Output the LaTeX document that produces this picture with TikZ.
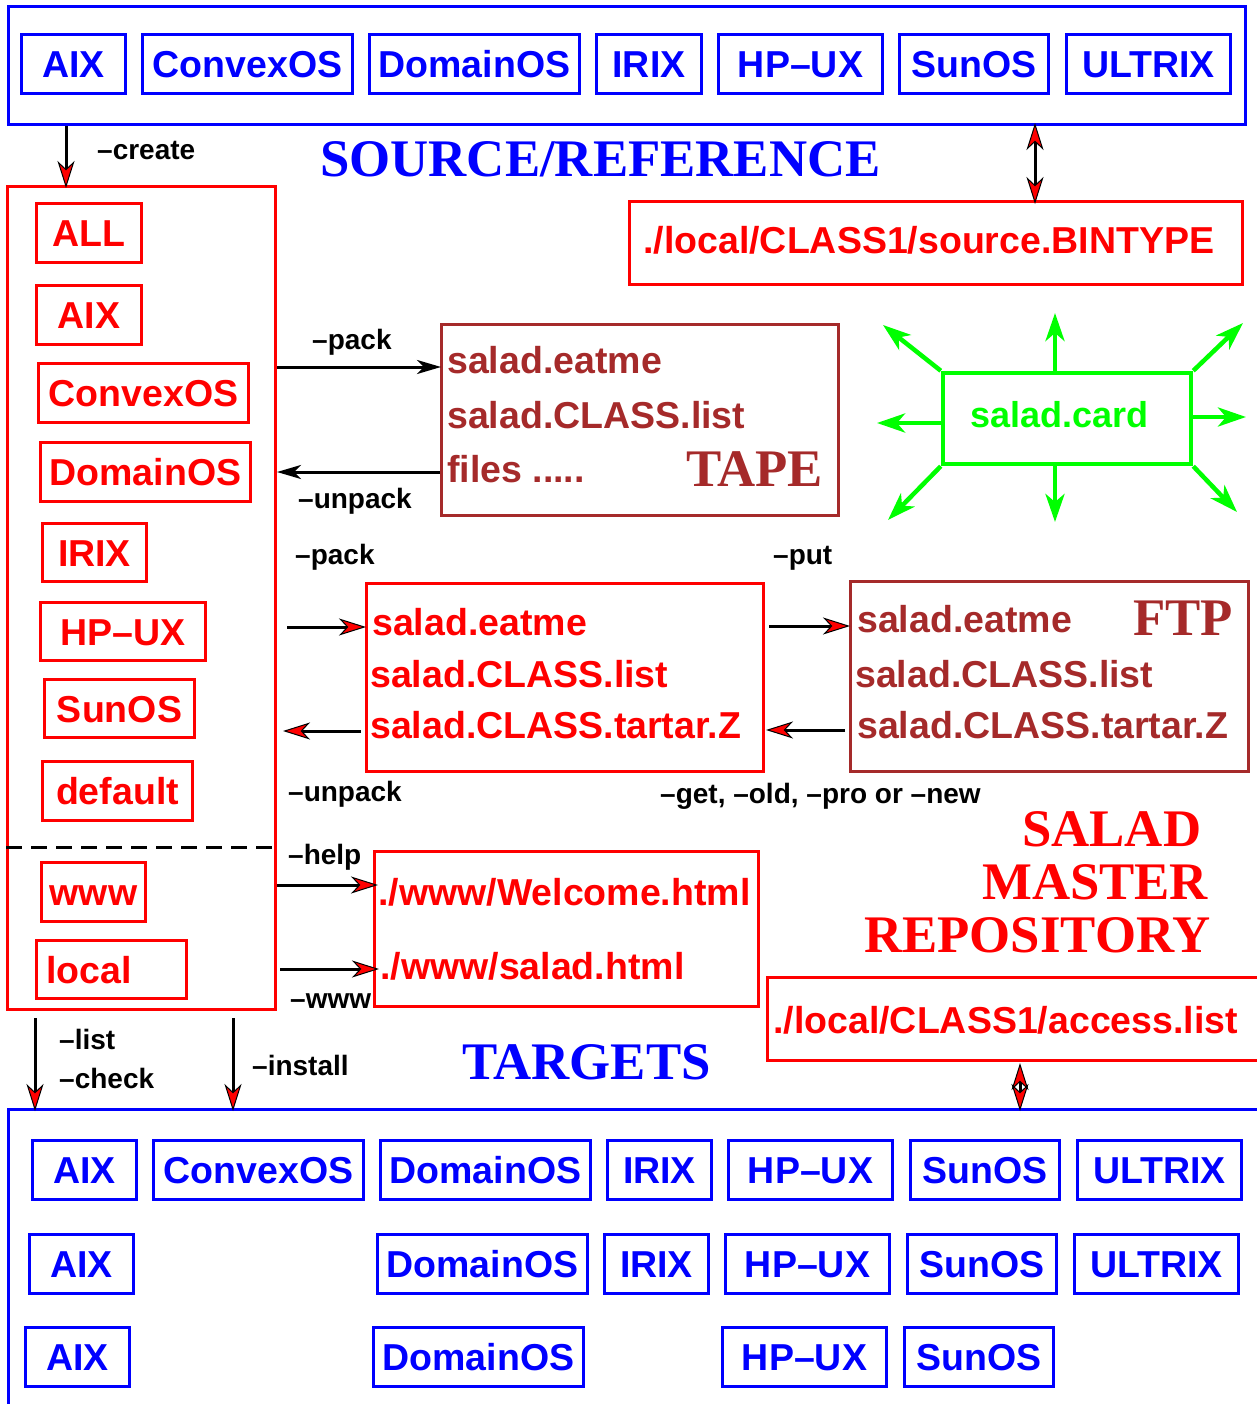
\documentclass[tikz,border=0pt]{standalone}
\usepackage{fontspec}
\setmainfont{Liberation Sans}
\newfontfamily\serifb{Liberation Serif}
\usetikzlibrary{arrows.meta}
\definecolor{xblue}{RGB}{0,0,255}
\definecolor{xred}{RGB}{255,0,0}
\definecolor{xbrown}{RGB}{165,42,42}
\definecolor{xgreen}{RGB}{0,255,0}
\begin{document}
\begin{tikzpicture}[x=1pt,y=-1pt,
  bigfont/.style={font=\bfseries\fontsize{37.5}{40}\selectfont},
  bbox/.style={draw=xblue, line width=3pt, text=xblue, bigfont, minimum height=59pt, inner sep=0pt, text height=27pt, text depth=0pt},
  rbox/.style={bbox, draw=xred, text=xred},
  frame/.style={draw, line width=3pt, inner sep=0pt},
  ftext/.style={anchor=base west, inner sep=0pt, bigfont},
  lbl/.style={anchor=base west, inner sep=0pt, font=\bfseries\fontsize{28}{30}\selectfont},
  ttl/.style={anchor=base west, inner sep=0pt, font=\serifb\bfseries\fontsize{52.8}{56}\selectfont},
  rtip/.tip={Stealth[length=27pt,width=17pt,inset=8pt,line width=1pt,fill=xred]},
  arr/.style={line width=3pt, -rtip},
  arrk/.style={line width=3pt, -{Stealth[length=24pt,width=14pt,inset=7pt]}},
  darr/.style={line width=3pt, rtip-rtip},
  garr/.style={draw=xgreen, line width=4.5pt, -{Stealth[length=28pt,width=19pt,inset=8pt]}}
]
\useasboundingbox (0,0) rectangle (1256,1404);

% ---------- frames ----------
\node[frame, draw=xblue, minimum width=1237pt, minimum height=118pt] (srcframe) at (627,65.5) {};
\node[frame, draw=xred, minimum width=268pt, minimum height=823pt] (lframe) at (141.5,598) {};
\node[frame, draw=xblue, minimum width=1260pt, minimum height=309pt] (tgtframe) at (638.5,1264) {};
\node[frame, draw=xred, minimum width=613pt, minimum height=83pt] (binf) at (936,243) {};
\node[frame, draw=xbrown, minimum width=397pt, minimum height=191pt] (tapef) at (640,420) {};
\node[frame, draw=xgreen, line width=4.5pt, minimum width=248pt, minimum height=91pt] (cardf) at (1067,418.5) {};
\node[frame, draw=xred, minimum width=397pt, minimum height=188pt] (midf) at (565,677.5) {};
\node[frame, draw=xbrown, minimum width=398pt, minimum height=190pt] (ftpf) at (1049.5,676.5) {};
\node[frame, draw=xred, minimum width=384pt, minimum height=155pt] (wwwf) at (566.5,929) {};
\node[frame, draw=xred, minimum width=500pt, minimum height=83pt] (accf) at (1017,1019) {};

% ---------- top row ----------
\node[bbox, minimum width=104pt] (t1) at (73.5,64) {AIX};
\node[bbox, minimum width=210pt] (t2) at (247.5,64) {ConvexOS};
\node[bbox, minimum width=210pt] (t3) at (474.5,64) {DomainOS};
\node[bbox, minimum width=105pt] (t4) at (649,64) {IRIX};
\node[bbox, minimum width=164pt] (t5) at (800.5,64) {HP--UX};
\node[bbox, minimum width=149pt] (t6) at (974,64) {SunOS};
\node[bbox, minimum width=164pt] (t7) at (1148.5,64) {ULTRIX};

% ---------- left column ----------
\node[rbox, minimum width=105pt] (l1) at (89,233) {ALL};
\node[rbox, minimum width=105pt] (l2) at (89,315) {AIX};
\node[rbox, minimum width=210pt] (l3) at (143.5,393) {ConvexOS};
\node[rbox, minimum width=210pt] (l4) at (145.5,472) {DomainOS};
\node[rbox, minimum width=104pt, minimum height=58pt] (l5) at (94.5,552.5) {IRIX};
\node[rbox, minimum width=165pt, minimum height=58pt] (l6) at (123,631.5) {HP--UX};
\node[rbox, minimum width=150pt, minimum height=58pt] (l7) at (119.5,708.5) {SunOS};
\node[rbox, minimum width=150pt] (l8) at (117.5,791) {default};
\node[rbox, minimum width=104pt] (l9) at (93.5,892) {www};
\node[rbox, minimum width=150pt, minimum height=58pt, text width=130pt, align=left] (l10) at (111.5,969.5) {local};

\coordinate (dashy) at (0,847);
\draw[line width=3pt, dash pattern=on 16pt off 9pt] (lframe.west |- dashy) -- ++(266,0);

% ---------- bottom rows ----------
\node[bbox, minimum width=104pt] (a1) at (84.5,1170) {AIX};
\node[bbox, minimum width=210pt] (a2) at (258.5,1170) {ConvexOS};
\node[bbox, minimum width=210pt] (a3) at (485.5,1170) {DomainOS};
\node[bbox, minimum width=104pt] (a4) at (659.5,1170) {IRIX};
\node[bbox, minimum width=164pt] (a5) at (810.5,1170) {HP--UX};
\node[bbox, minimum width=149pt] (a6) at (985,1170) {SunOS};
\node[bbox, minimum width=164pt] (a7) at (1159.5,1170) {ULTRIX};

\node[bbox, minimum width=104pt] (b1) at (81.5,1264) {AIX};
\node[bbox, minimum width=210pt] (b3) at (482.5,1264) {DomainOS};
\node[bbox, minimum width=104pt] (b4) at (656.5,1264) {IRIX};
\node[bbox, minimum width=164pt] (b5) at (807.5,1264) {HP--UX};
\node[bbox, minimum width=149pt] (b6) at (982,1264) {SunOS};
\node[bbox, minimum width=164pt] (b7) at (1156.5,1264) {ULTRIX};

\node[bbox, minimum width=104pt] (c1) at (77.5,1357) {AIX};
\node[bbox, minimum width=210pt] (c3) at (478.5,1357) {DomainOS};
\node[bbox, minimum width=164pt] (c5) at (804.5,1357) {HP--UX};
\node[bbox, minimum width=149pt] (c6) at (979,1357) {SunOS};

% ---------- texts in frames ----------
\node[ftext, text=xred] (bint) at (643,254) {./local/CLASS1/source.BINTYPE};
\node[ftext, text=xbrown] (tp1) at (447,373) {salad.eatme};
\node[ftext, text=xbrown] (tp2) at (447,428) {salad.CLASS.list};
\node[ftext, text=xbrown] (tp3) at (447,482) {files .....};
\node[ttl, text=xbrown] (tapet) at (686,486) {TAPE};
\node[ftext, text=xgreen, font=\bfseries\fontsize{36}{40}\selectfont] (cardt) at (970,427) {salad.card};
\node[ftext, text=xred] (m1) at (372,635) {salad.eatme};
\node[ftext, text=xred] (m2) at (370,687) {salad.CLASS.list};
\node[ftext, text=xred] (m3) at (370,738) {salad.CLASS.tartar.Z};
\node[ftext, text=xbrown] (f1) at (857,632) {salad.eatme};
\node[ftext, text=xbrown] (f2) at (855,687) {salad.CLASS.list};
\node[ftext, text=xbrown] (f3) at (857,738) {salad.CLASS.tartar.Z};
\node[ttl, text=xbrown] (ftpt) at (1133,635) {FTP};
\node[ftext, text=xred] (w1) at (378,905) {./www/Welcome.html};
\node[ftext, text=xred] (w2) at (380,979) {./www/salad.html};
\node[ftext, text=xred] (acct) at (773,1033) {./local/CLASS1/access.list};

% ---------- titles ----------
\node[ttl, text=xblue] (srct) at (320,177) {SOURCE/REFERENCE};
\node[ttl, text=xblue] (tgtt) at (462,1079) {TARGETS};
\node[ttl, text=xred] (sal1) at (1022,846) {SALAD};
\node[ttl, text=xred] (sal2) at (982,899) {MASTER};
\node[ttl, text=xred] (sal3) at (864,952) {REPOSITORY};

% ---------- labels ----------
\node[lbl] (lcreate) at (97,160) {–create};
\node[lbl] (lpack1) at (312,349) {–pack};
\node[lbl] (lunpack1) at (298,508) {–unpack};
\node[lbl] (lpack2) at (295,564) {–pack};
\node[lbl] (lput) at (773,564) {–put};
\node[lbl] (lunpack2) at (288,801) {–unpack};
\node[lbl] (lget) at (660,803) {–get, –old, –pro or –new};
\node[lbl] (lhelp) at (288,864) {–help};
\node[lbl] (lwww) at (290,1008) {–www};
\node[lbl] (llist) at (59,1049) {–list};
\node[lbl] (lcheck) at (59,1088) {–check};
\node[lbl] (linst) at (252,1075) {–install};

% ---------- connectors ----------
\coordinate (xc) at (66,0);
\coordinate (xl) at (35,0);
\coordinate (xi) at (233,0);
\coordinate (xd1) at (1035,0);
\coordinate (xd2) at (1020,0);
\coordinate (y1) at (0,367);
\coordinate (y2) at (0,472);
\coordinate (y3) at (0,627);
\coordinate (y4) at (0,731);
\coordinate (y5) at (0,626);
\coordinate (y6) at (0,730);
\coordinate (y7) at (0,885);
\coordinate (y8) at (0,969);

\draw[arr] (srcframe.south -| xc) -- ([yshift=-3pt]lframe.north -| xc);
\draw[arrk] (lframe.east |- y1) -- ([xshift=1pt]tapef.west |- y1);
\draw[arrk] (tapef.west |- y2) -- (lframe.east |- y2);
\draw[arr] ([xshift=10pt]lframe.east |- y3) -- ([xshift=1pt]midf.west |- y3);
\draw[arr] ([xshift=-4pt]midf.west |- y4) -- ([xshift=6pt]lframe.east |- y4);
\draw[arr] ([xshift=4pt]midf.east |- y5) -- ([xshift=1pt]ftpf.west |- y5);
\draw[arr] ([xshift=-4pt]ftpf.west |- y6) -- ([xshift=1pt]midf.east |- y6);
\draw[arr] (lframe.east |- y7) -- ([xshift=5pt]wwwf.west |- y7);
\draw[arr] ([xshift=3pt]lframe.east |- y8) -- ([xshift=6pt]wwwf.west |- y8);
\draw[arr] ([yshift=-7pt]lframe.south -| xl) -- ([yshift=-3pt]tgtframe.north -| xl);
\draw[arr] ([yshift=-7pt]lframe.south -| xi) -- ([yshift=-3pt]tgtframe.north -| xi);
\draw[darr] ([yshift=3pt]srcframe.south -| xd1) -- ([yshift=-4pt]binf.north -| xd1);
\draw[darr] ([yshift=-1pt]accf.south -| xd2) -- ([yshift=-3pt]tgtframe.north -| xd2);

% green arrows
\coordinate (g1) at (883,325);
\coordinate (g2) at (1055,313);
\coordinate (g3) at (1243,323);
\coordinate (g4) at (877,423);
\coordinate (g5) at (1246,417);
\coordinate (g6) at (888,520);
\coordinate (g7) at (1055,522);
\coordinate (g8) at (1237,512);
\coordinate (gy4) at (0,423);
\coordinate (gy5) at (0,417);
\coordinate (gx) at (1055,0);
\draw[garr] (cardf.north west) -- (g1);
\draw[garr] (cardf.north -| gx) -- (g2);
\draw[garr] (cardf.north east) -- (g3);
\draw[garr] (cardf.west |- gy4) -- (g4);
\draw[garr] (cardf.east |- gy5) -- (g5);
\draw[garr] (cardf.south west) -- (g6);
\draw[garr] (cardf.south -| gx) -- (g7);
\draw[garr] (cardf.south east) -- (g8);
\end{tikzpicture}
\end{document}
